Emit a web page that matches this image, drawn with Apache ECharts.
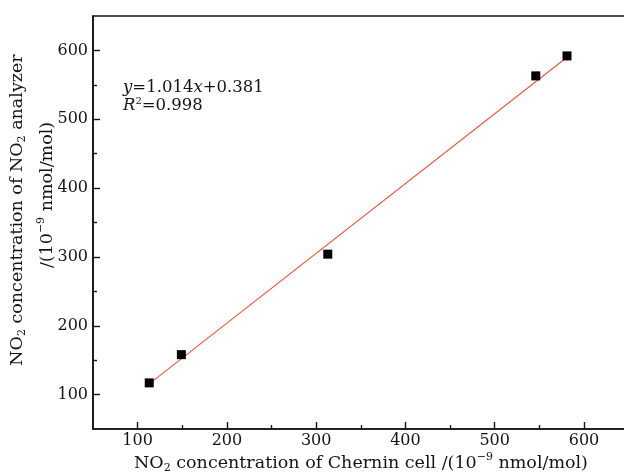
<!DOCTYPE html>
<html>
<head>
<meta charset="utf-8">
<script src="https://cdn.jsdelivr.net/npm/echarts@6/dist/echarts.min.js"></script>
<style>html,body{margin:0;padding:0;background:#fff}#c{width:624px;height:475px}</style>
</head>
<body>
<div id="c"></div>
<script>
const xTicks = [100, 200, 300, 400, 500, 600];
const xMinorTicks = [150, 250, 350, 450, 550];
const yTicks = [100, 200, 300, 400, 500, 600];
const yMinorTicks = [150, 250, 350, 450, 550];
const chernin = [113, 149, 313, 546, 581];
const analyzer = [117, 158, 304, 563, 592];
const fitX = [113, 581];
const fitY = [115.5, 590];
const xTitle = 'NO{sub|2} concentration of Chernin cell /(10{sup|−9} nmol/mol)';
const yTitle1 = 'NO{sub|2} concentration of NO{sub|2} analyzer';
const yTitle2 = '/(10{sup|−9} nmol/mol)';
const equation = '{i|y}=1.014{i|x}+0.381\n{i|R}{sup|2}=0.998';

const FAM = '"DejaVu Serif", "Liberation Serif", serif';
const ink = '#141414';
const titleRich = {
  sub: { font: '11px ' + FAM, padding: [10, 0, 0, 0] },
  sup: { font: '11px ' + FAM, padding: [0, 0, 12, 0] }
};

const chart = echarts.init(document.getElementById('c'), null, { renderer: 'canvas' });
const axisCommon = {
  type: 'value', min: 50, max: 650,
  splitLine: { show: false }
};
chart.setOption({
  animation: false,
  backgroundColor: '#fff',
  grid: { left: 93, top: 16, width: 535.6, height: 413, show: true, borderColor: ink, borderWidth: 1.6, outerBoundsMode: 'none' },
  xAxis: [
    Object.assign({}, axisCommon, {
      position: 'bottom',
      axisLine: { show: true, onZero: false, lineStyle: { color: ink, width: 1.6 } },
      axisTick: { show: true, inside: true, length: 7, customValues: xTicks, lineStyle: { color: ink, width: 1.4 } },
      axisLabel: { show: true, customValues: xTicks, margin: 4, color: ink, fontFamily: FAM, fontSize: 16 }
    }),
    Object.assign({}, axisCommon, {
      position: 'bottom',
      axisLine: { show: false, onZero: false },
      axisTick: { show: true, inside: true, length: 4, customValues: xMinorTicks, lineStyle: { color: ink, width: 1.4 } },
      axisLabel: { show: false }
    })
  ],
  yAxis: [
    Object.assign({}, axisCommon, {
      position: 'left',
      axisLine: { show: true, onZero: false, lineStyle: { color: ink, width: 1.6 } },
      axisTick: { show: true, inside: true, length: 7, customValues: yTicks, lineStyle: { color: ink, width: 1.4 } },
      axisLabel: { show: true, customValues: yTicks, margin: 5, color: ink, fontFamily: FAM, fontSize: 16 }
    }),
    Object.assign({}, axisCommon, {
      position: 'left',
      axisLine: { show: false, onZero: false },
      axisTick: { show: true, inside: true, length: 4, customValues: yMinorTicks, lineStyle: { color: ink, width: 1.4 } },
      axisLabel: { show: false }
    })
  ],
  series: [
    {
      type: 'line', xAxisIndex: 0, yAxisIndex: 0,
      data: fitX.map((x, i) => [x, fitY[i]]),
      symbol: 'none', lineStyle: { color: '#e8523f', width: 1.1 }, z: 2
    },
    {
      type: 'scatter', xAxisIndex: 0, yAxisIndex: 0,
      data: chernin.map((x, i) => [x, analyzer[i]]),
      symbol: 'rect', symbolSize: 9, itemStyle: { color: '#000', opacity: 1 }, z: 3
    }
  ],
  graphic: [
    { type: 'text', x: 361, y: 463, style: { text: xTitle, font: '17.5px ' + FAM, fill: ink, align: 'center', verticalAlign: 'middle', lineHeight: 20, rich: titleRich } },
    { type: 'text', x: 17, y: 210, rotation: Math.PI / 2, style: { text: yTitle1, font: '17.5px ' + FAM, fill: ink, align: 'center', verticalAlign: 'middle', lineHeight: 20, rich: titleRich } },
    { type: 'text', x: 47, y: 195, rotation: Math.PI / 2, style: { text: yTitle2, font: '17.5px ' + FAM, fill: ink, align: 'center', verticalAlign: 'middle', lineHeight: 20, rich: titleRich } },
    { type: 'text', x: 123, y: 79, style: { text: equation, font: '16.5px ' + FAM, fill: ink, align: 'left', verticalAlign: 'top', lineHeight: 18,
      rich: { i: { font: 'italic 16.5px ' + FAM, fill: ink }, sup: { font: '10px ' + FAM, fill: ink, padding: [0, 0, 9, 0] } } } }
  ]
});
</script>
</body>
</html>
